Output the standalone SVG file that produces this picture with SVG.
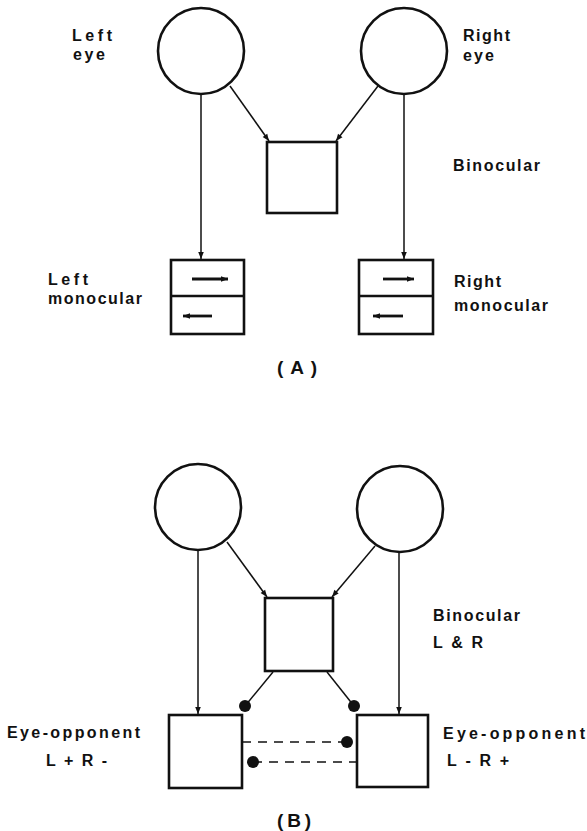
<svg xmlns="http://www.w3.org/2000/svg" width="587" height="831" viewBox="0 0 587 831">
<style>
.node{fill:#fff;stroke:#111;stroke-width:2.6}
.con{fill:none;stroke:#111;stroke-width:1.5}
.dash{fill:none;stroke:#111;stroke-width:1.6;stroke-dasharray:9 7}
.inner{fill:none;stroke:#111;stroke-width:2.8}
.dot{fill:#111}
text{font-family:"Liberation Sans",Arial,sans-serif;font-size:16px;font-weight:bold;fill:#111}
</style>
<defs>
<marker id="ah" viewBox="0 0 10 10" refX="10" refY="5" markerWidth="10" markerHeight="7" markerUnits="userSpaceOnUse" orient="auto">
<path d="M0,1 L10,5 L0,9 Z" fill="#111"/>
</marker>
<marker id="ahs" viewBox="0 0 10 10" refX="10" refY="5" markerWidth="10" markerHeight="7" markerUnits="userSpaceOnUse" orient="auto">
<path d="M0,1 L10,5 L0,9 Z" fill="#111"/>
</marker>
</defs>

<!-- Panel A -->
<g id="A-left-eye"><circle class="node" cx="201" cy="51" r="43"/>
<text x="72" y="41" textLength="40" lengthAdjust="spacing">Left</text>
<text x="73" y="60" textLength="32" lengthAdjust="spacing">eye</text></g>
<g id="A-right-eye"><circle class="node" cx="404" cy="51" r="43"/>
<text x="463" y="41" textLength="47" lengthAdjust="spacing">Right</text>
<text x="463" y="61" textLength="31" lengthAdjust="spacing">eye</text></g>
<g id="A-binocular"><rect class="node" x="267" y="142" width="70" height="71"/>
<text x="453" y="171" textLength="87" lengthAdjust="spacing">Binocular</text></g>
<g id="A-left-monocular"><rect class="node" x="171" y="260" width="73" height="74"/>
<line class="node" x1="171" y1="296" x2="244" y2="296"/>
<line class="inner" x1="192" y1="279" x2="228" y2="279" marker-end="url(#ahs)"/>
<line class="inner" x1="212" y1="316" x2="183" y2="316" marker-end="url(#ahs)"/>
<text x="48" y="285" textLength="40" lengthAdjust="spacing">Left</text>
<text x="48" y="304" textLength="94" lengthAdjust="spacing">monocular</text></g>
<g id="A-right-monocular"><rect class="node" x="359" y="260" width="74" height="74"/>
<line class="node" x1="359" y1="296" x2="433" y2="296"/>
<line class="inner" x1="383" y1="279" x2="414" y2="279" marker-end="url(#ahs)"/>
<line class="inner" x1="403" y1="316" x2="373" y2="316" marker-end="url(#ahs)"/>
<text x="454" y="287" textLength="47" lengthAdjust="spacing">Right</text>
<text x="454" y="311" textLength="94" lengthAdjust="spacing">monocular</text></g>
<text x="277" y="374" textLength="40" lengthAdjust="spacing" style="font-size:19px">(A)</text>

<!-- Panel B -->
<g id="B-left-eye"><circle class="node" cx="198" cy="507" r="43"/></g>
<g id="B-right-eye"><circle class="node" cx="400" cy="509" r="43"/></g>
<g id="B-binocular"><rect class="node" x="265" y="598" width="68" height="73"/>
<text x="433" y="621" textLength="87" lengthAdjust="spacing">Binocular</text>
<text x="433" y="648" textLength="50" lengthAdjust="spacing">L &amp; R</text></g>
<g id="B-left-opponent"><rect class="node" x="169" y="715" width="73" height="73"/>
<text x="7" y="738" textLength="133" lengthAdjust="spacing">Eye-opponent</text>
<text x="46" y="766" textLength="61" lengthAdjust="spacing">L+R-</text></g>
<g id="B-right-opponent"><rect class="node" x="357" y="715" width="71" height="72"/>
<text x="443" y="739" textLength="142" lengthAdjust="spacing">Eye-opponent</text>
<text x="447" y="766" textLength="62" lengthAdjust="spacing">L-R+</text></g>
<text x="277" y="827" textLength="34" lengthAdjust="spacing" style="font-size:19px">(B)</text>

<g id="connectors">
<line class="con" x1="230" y1="86" x2="269" y2="141" marker-end="url(#ah)"/>
<line class="con" x1="378" y1="86" x2="336" y2="141" marker-end="url(#ah)"/>
<line class="con" x1="201" y1="95" x2="201" y2="259" marker-end="url(#ah)"/>
<line class="con" x1="404" y1="95" x2="404" y2="259" marker-end="url(#ah)"/>

<line class="con" x1="227" y1="542" x2="267" y2="597" marker-end="url(#ah)"/>
<line class="con" x1="375" y1="546" x2="332" y2="597" marker-end="url(#ah)"/>
<line class="con" x1="198" y1="551" x2="198" y2="714" marker-end="url(#ah)"/>
<line class="con" x1="399" y1="553" x2="399" y2="714" marker-end="url(#ah)"/>

<line class="con" x1="273" y1="672" x2="245" y2="706"/>
<circle class="dot" cx="245" cy="706" r="6"/>
<line class="con" x1="327" y1="672" x2="354" y2="706"/>
<circle class="dot" cx="354" cy="706" r="6"/>

<line class="dash" x1="242" y1="742" x2="347" y2="742"/>
<circle class="dot" cx="347" cy="742" r="6"/>
<line class="dash" x1="253" y1="762" x2="357" y2="762"/>
<circle class="dot" cx="253" cy="762" r="6"/>
</g>
</svg>
